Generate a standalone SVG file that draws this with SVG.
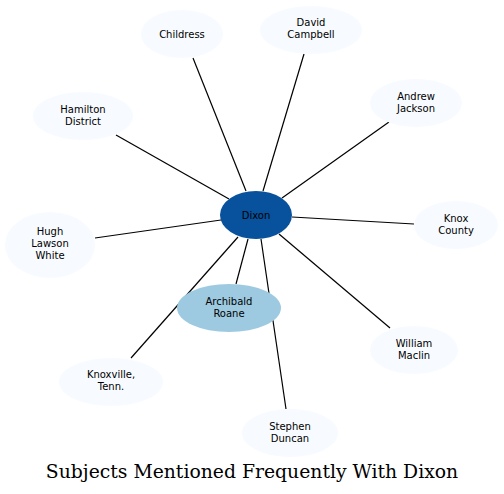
<svg xmlns="http://www.w3.org/2000/svg" width="504" height="494" viewBox="0 0 504 494">
<style>
.n{fill:#f7fbff}
.t{font-family:"DejaVu Sans",sans-serif;font-size:10px;text-anchor:middle;fill:#000}
.e line{stroke:#000;stroke-width:1.2}
.title{font-family:"DejaVu Serif",serif;font-size:18.8px;text-anchor:middle;fill:#000}
</style>
<rect width="504" height="494" fill="#fff"/>
<g id="edges" class="e">
<line x1="193" y1="58" x2="246" y2="191"/>
<line x1="304" y1="54" x2="263" y2="191"/>
<line x1="389" y1="122" x2="282" y2="198"/>
<line x1="116" y1="135" x2="229" y2="199"/>
<line x1="414" y1="224" x2="292" y2="217"/>
<line x1="95" y1="238" x2="221" y2="220"/>
<line x1="390" y1="328" x2="279" y2="234"/>
<line x1="131" y1="358" x2="238" y2="237"/>
<line x1="286" y1="409" x2="261" y2="239"/>
<line x1="236" y1="284" x2="248" y2="239"/>
</g>
<g id="childress"><ellipse class="n" cx="182" cy="34" rx="41" ry="24"/><text class="t" x="182" y="37.5">Childress</text></g>
<g id="david-campbell"><ellipse class="n" cx="311" cy="30" rx="51" ry="24"/><text class="t" x="311" y="26">David</text><text class="t" x="311" y="38">Campbell</text></g>
<g id="andrew-jackson"><ellipse class="n" cx="416" cy="103" rx="46" ry="24"/><text class="t" x="416" y="100">Andrew</text><text class="t" x="416" y="112">Jackson</text></g>
<g id="hamilton-district"><ellipse class="n" cx="83" cy="116" rx="50" ry="24"/><text class="t" x="83" y="113">Hamilton</text><text class="t" x="83" y="125">District</text></g>
<g id="knox-county"><ellipse class="n" cx="456" cy="225" rx="42" ry="24"/><text class="t" x="456" y="222">Knox</text><text class="t" x="456" y="234">County</text></g>
<g id="hugh-lawson-white"><ellipse class="n" cx="50" cy="245" rx="45" ry="33"/><text class="t" x="50" y="235">Hugh</text><text class="t" x="50" y="247">Lawson</text><text class="t" x="50" y="259">White</text></g>
<g id="william-maclin"><ellipse class="n" cx="414" cy="350" rx="44" ry="24"/><text class="t" x="414" y="347">William</text><text class="t" x="414" y="359">Maclin</text></g>
<g id="knoxville-tenn"><ellipse class="n" cx="111" cy="382" rx="52" ry="24"/><text class="t" x="111" y="378">Knoxville,</text><text class="t" x="111" y="390">Tenn.</text></g>
<g id="stephen-duncan"><ellipse class="n" cx="290" cy="433" rx="48" ry="24"/><text class="t" x="290" y="430">Stephen</text><text class="t" x="290" y="442">Duncan</text></g>
<g id="archibald-roane"><ellipse cx="229" cy="308" rx="52" ry="24" fill="#9ecae1"/><text class="t" x="229" y="305">Archibald</text><text class="t" x="229" y="317">Roane</text></g>
<g id="dixon"><ellipse cx="256" cy="215" rx="36" ry="24" fill="#08519c"/><text class="t" x="256" y="218.5">Dixon</text></g>
<text class="title" x="252" y="478">Subjects Mentioned Frequently With Dixon</text>
</svg>
